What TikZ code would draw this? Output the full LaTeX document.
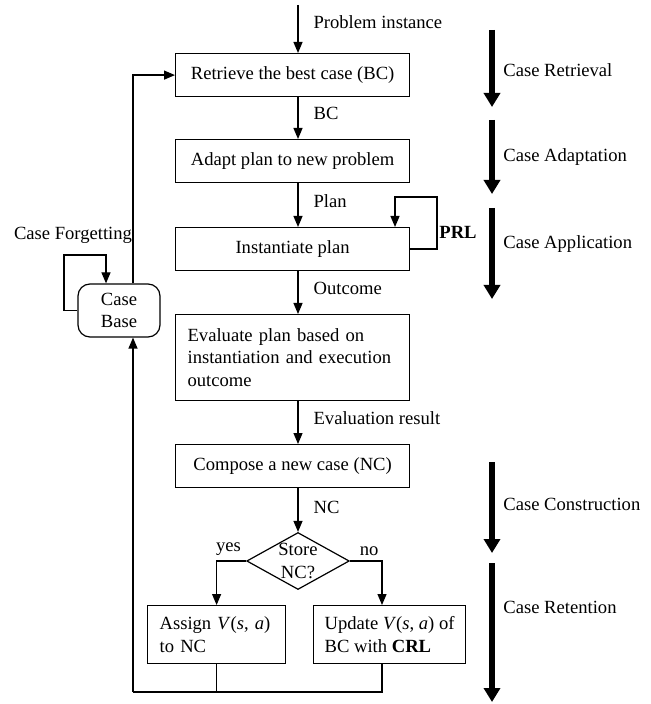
\documentclass[tikz,border=0pt]{standalone}
\usepackage{fontspec}
\setmainfont{Liberation Serif}
\usetikzlibrary{arrows.meta,shapes.geometric,positioning}
\tikzset{
    proc-box/.style = {draw, line width=0.6pt, rectangle, minimum width=117pt, minimum height=21.5pt, inner sep=0pt},
    text-box/.style = {draw, line width=0.6pt, rectangle, align=left, inner xsep=6pt, inner ysep=0pt},
    base-box/.style = {draw, line width=0.6pt, rectangle, rounded corners=6pt, align=center, minimum width=41pt, minimum height=26.5pt, inner sep=0pt},
    decision/.style = {draw, line width=0.6pt, diamond, aspect=1.8, align=center, inner sep=0pt},
    flow/.style = {line width=0.6pt, -{Triangle[width=4.5pt,length=5.5pt]}},
    link/.style = {line width=0.6pt},
    phase/.style = {line width=2.6pt, -{Triangle[width=8pt,length=7pt]}},
    flow-label/.style = {right=4.5pt, inner sep=3pt},
    phase-label/.style = {anchor=west, inner sep=0pt},
}

\begin{document}
\begin{tikzpicture}[x=0.5pt, y=-0.5pt, font=\fontsize{9.3}{11.3}\selectfont]
\useasboundingbox (0,0) rectangle (650,704);

% main column
\coordinate (start) at (298,5);
\node[proc-box, anchor=north west] (retrieve) at (175,53) {Retrieve the best case (BC)};
\node[proc-box, anchor=north west] (adapt) at (175,139) {Adapt plan to new problem};
\node[proc-box, anchor=north west] (inst) at (175,227) {Instantiate plan};
\node[text-box, anchor=north west, text width=105pt, minimum height=43pt] (eval) at (175,314)
    {Evaluate plan based on\\instantiation and execution\\outcome};
\node[proc-box, anchor=north west] (compose) at (175,444) {Compose a new case (NC)};
\node[decision] (store) at (298,561) {Store\\NC?};
\node[text-box, anchor=north west, text width=57pt, minimum height=29pt] (assign) at (147,605)
    {Assign \textit{V}(\textit{s}, \textit{a})\\to NC};
\node[text-box, anchor=north west, inner xsep=0pt, minimum width=76pt, minimum height=29pt] (update) at (313,605)
    {Update \textit{V}(\textit{s}, \textit{a}) of\\BC with \textbf{CRL}};

% case base on the left
\node[base-box] (base) at (119,310.5) {Case\\Base};
\node (forgetting) at (73,235) {Case Forgetting};

\coordinate (no-drop) at (382,0);
\coordinate (back) at (133,692);
\coordinate (forget-l) at (64,255);
\coordinate (forget-r) at (106,255);
\coordinate (prl-r) at (437,197);
\coordinate (prl-l) at (395,197);

\draw[flow] (start) -- (retrieve.north -| start) node[pos=0.35, flow-label] {Problem instance};
\draw[flow] (retrieve.south -| start) -- (adapt.north -| start) node[pos=0.4, flow-label] {BC};
\draw[flow] (adapt.south -| start) -- (inst.north -| start) node[pos=0.4, flow-label] {Plan};
\draw[flow] (inst.south -| start) -- (eval.north -| start) node[pos=0.4, flow-label] {Outcome};
\draw[flow] (eval.south -| start) -- (compose.north -| start) node[pos=0.4, flow-label] {Evaluation result};
\draw[flow] (compose.south -| start) -- (store.north) node[pos=0.45, flow-label] {NC};

\draw[flow] (store.west) -| (assign.north) node[pos=0.3, above=-1pt] {yes};
\draw[flow] (store.east) -| (update.north -| no-drop) node[pos=0.3, above=-1pt] {no};

% PRL loop
\draw[flow] (inst.east) -| (prl-r) -- (prl-l) -- (prl-l |- inst.north);
\node[anchor=west, inner sep=1pt, font=\fontsize{9.3}{11.3}\selectfont\bfseries] (prl) at (437,232) {PRL};

% back to the case base
\draw[link] (assign.south) -- (assign.south |- back);
\draw[link] (update.south -| no-drop) -- (no-drop |- back) -- (back);
\draw[flow] (back) -- (back |- base.south);
\draw[flow] (back |- base.north) |- (retrieve.west);
\draw[flow] (base.west) -| (forget-l) -- (forget-r) -- (forget-r |- base.north);

% phases on the right
\draw[phase] (492,30) -- (492,107);
\node[phase-label] (retrieval) at (503,70) {Case Retrieval};
\draw[phase] (492,120) -- (492,194);
\node[phase-label] (adaptation) at (503,157) {Case Adaptation};
\draw[phase] (492,208) -- (492,299);
\node[phase-label] (application) at (503,244) {Case Application};
\draw[phase] (492,462) -- (492,553);
\node[phase-label] (construction) at (503,504) {Case Construction};
\draw[phase] (492,563) -- (492,702);
\node[phase-label] (retention) at (503,607) {Case Retention};
\end{tikzpicture}
\end{document}
